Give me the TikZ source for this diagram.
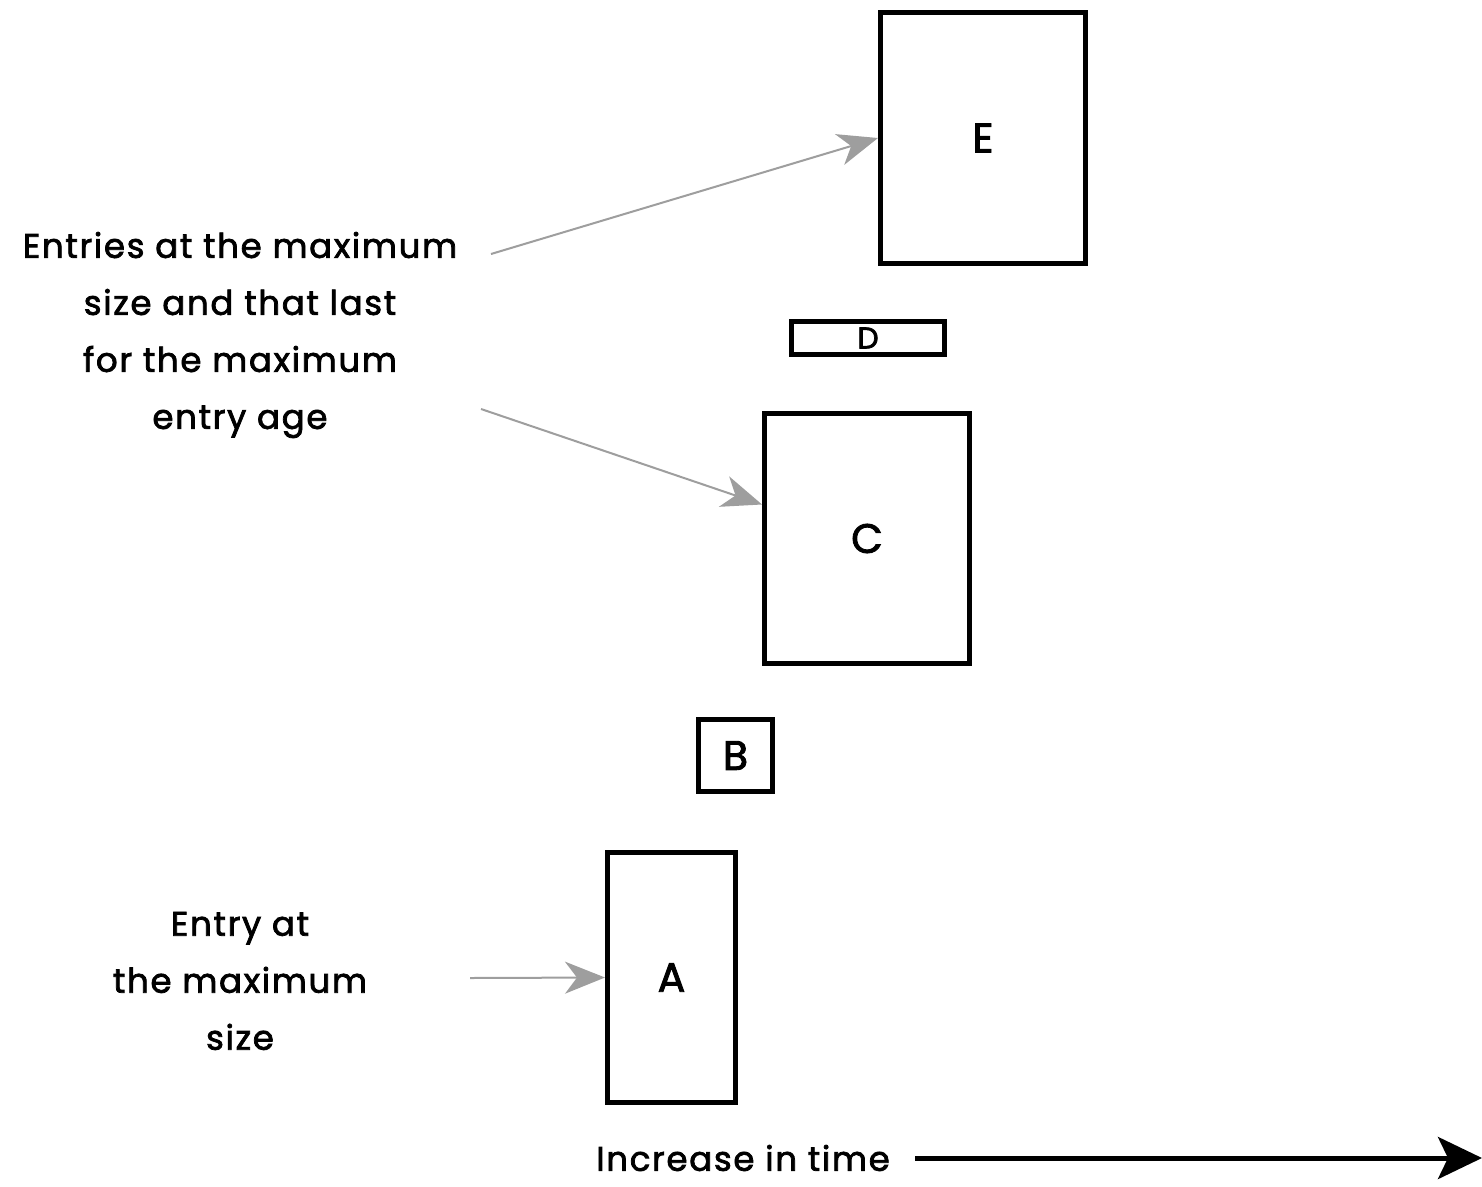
\documentclass[tikz,border=0pt]{standalone}
\usepackage{fontspec}
\setmainfont{Poppins}[FakeBold=2.2,LetterSpace=5]
\newfontfamily\boxfont{Poppins}[FakeBold=2.2]
\usetikzlibrary{arrows.meta}
\begin{document}
\begin{tikzpicture}[x=1pt,y=-1pt,
  box/.style={draw=black,line width=5pt,inner sep=0pt,fill=white,font=\boxfont\fontsize{41}{43}\selectfont},
  lbl/.style={align=center,inner sep=0pt,font=\fontsize{34}{57}\selectfont},
  grayarrow/.style={draw=black!38,line width=2pt,-{Stealth[length=40pt,width=32pt,inset=12pt,fill=black!38]}},
  timearrow/.style={draw=black,line width=5pt,-{Stealth[length=44pt,width=42pt,inset=10pt]}}]
\useasboundingbox (0,0) rectangle (1482,1186);
% boxes
\node[box,minimum width=205pt,minimum height=251pt] (E) at (983,138) {E};
\node[box,minimum width=153pt,minimum height=33pt,font=\boxfont\fontsize{30}{32}\selectfont] (D) at (868,338) {D};
\node[box,minimum width=205pt,minimum height=250pt] (C) at (867,538.5) {C};
\node[box,minimum width=74pt,minimum height=72pt] (B) at (735.5,755.5) {B};
\node[box,minimum width=128pt,minimum height=250pt] (A) at (671.5,977.5) {A};
% labels
\node[lbl] (top) at (240,335) {Entries at the maximum\\size and that last\\for the maximum\\entry age};
\node[lbl] (bot) at (240,981) {Entry at\\the maximum\\size};
\node[lbl,anchor=east] (time) at (890,1158) {Increase in time};
% connectors
\coordinate (s1) at (491,254);
\coordinate (s2) at (481,409);
\coordinate (s3) at (470,978);
\coordinate (cin) at ([yshift=34pt]C.west);
\coordinate (tend) at (1482,1158);
\draw[grayarrow] (s1) -- (E.west);
\draw[grayarrow] (s2) -- (cin);
\draw[grayarrow] (s3) -- (A.west);
\draw[timearrow] ([xshift=25pt]time.east) -- (tend);
\end{tikzpicture}
\end{document}
